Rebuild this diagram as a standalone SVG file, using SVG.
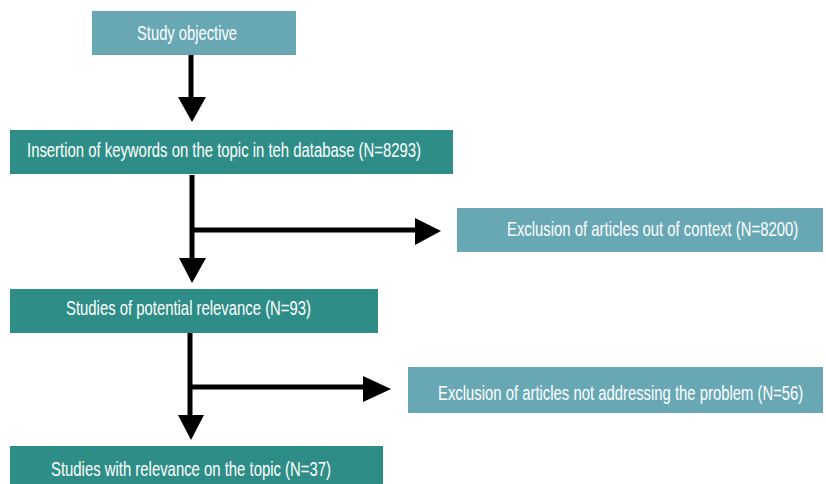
<svg xmlns="http://www.w3.org/2000/svg" width="826" height="484" viewBox="0 0 826 484">
<style>
.dark{fill:#2e8e87}
.light{fill:#68a8b5}
text{font-family:"Liberation Sans",Arial,sans-serif;font-size:20px;fill:#ffffff}
.ln{stroke:#000;stroke-width:5;fill:none}
.hd{fill:#000}
</style>
<rect width="826" height="484" fill="#fff"/>
<g id="n1"><rect class="light" x="92" y="11" width="204" height="44"/><text x="137" y="40" textLength="100" lengthAdjust="spacingAndGlyphs">Study objective</text></g>
<g id="n2"><rect class="dark" x="10" y="130" width="443" height="44"/><text x="27" y="157" textLength="394" lengthAdjust="spacingAndGlyphs">Insertion of keywords on the topic in teh database (N=8293)</text></g>
<g id="n3"><rect class="light" x="457" y="208" width="366" height="44"/><text transform="translate(507,236) scale(0.744,1)">Exclusion of articles out of context (N=8200)</text></g>
<g id="n4"><rect class="dark" x="10" y="289" width="368" height="44"/><text x="66" y="315" textLength="245" lengthAdjust="spacingAndGlyphs">Studies of potential relevance (N=93)</text></g>
<g id="n5"><rect class="light" x="408" y="367" width="415" height="46"/><text transform="translate(438,400) scale(0.743,1)">Exclusion of articles not addressing the problem (N=56)</text></g>
<g id="n6"><rect class="dark" x="10" y="446" width="373" height="40"/><text x="51" y="476" textLength="280" lengthAdjust="spacingAndGlyphs">Studies with relevance on the topic (N=37)</text></g>
<g id="connectors">
<line class="ln" x1="191" y1="55" x2="191" y2="98"/>
<polygon class="hd" points="178,97 206,97 192,122"/>
<line class="ln" x1="192" y1="175" x2="192" y2="259"/>
<line class="ln" x1="190" y1="230" x2="416" y2="230"/>
<polygon class="hd" points="415,218 415,245 441,231"/>
<polygon class="hd" points="179,258 206,258 192,283"/>
<line class="ln" x1="190" y1="333" x2="190" y2="416"/>
<line class="ln" x1="188" y1="387" x2="364" y2="387"/>
<polygon class="hd" points="363,376 363,402 391,389"/>
<polygon class="hd" points="178,415 204,415 191,440"/>
</g>
</svg>
